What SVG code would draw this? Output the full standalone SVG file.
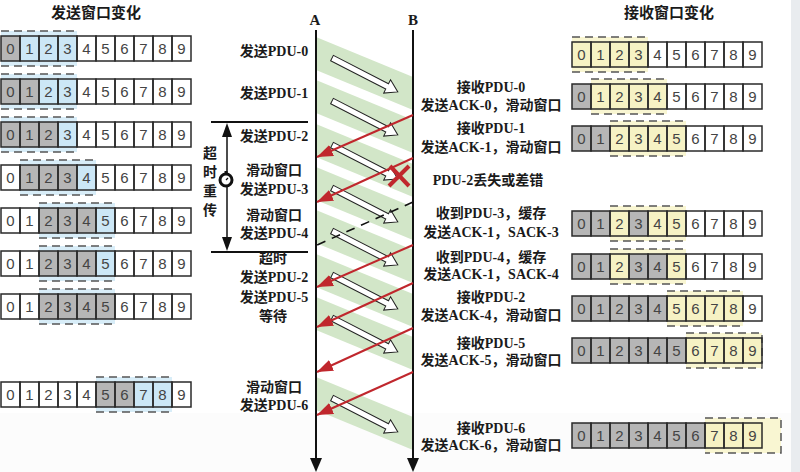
<svg xmlns="http://www.w3.org/2000/svg" xmlns:xlink="http://www.w3.org/1999/xlink" width="800" height="472" viewBox="0 0 800 472">
<style>
.lbl{font-family:"Liberation Serif","Noto Sans CJK SC",serif;font-weight:bold;font-size:14px;fill:#1a1a1a;text-anchor:middle}
.hdr{font-family:"Liberation Serif","Noto Sans CJK SC",serif;font-weight:bold;font-size:15px;fill:#1a1a1a;text-anchor:middle}
.dig{font-family:"Liberation Sans",Arial,sans-serif;font-size:15px;fill:#444;text-anchor:middle}
.cell{fill:none;stroke:#2a2a2a;stroke-width:1.5}
.g{fill:#b6b6b6}
.b{fill:#cce7f6}
.y{fill:#f6f2c4}
.wb{fill:#d8edf8}
.wy{fill:#f9f6d2}
.dash{stroke:#555;stroke-width:1.5;stroke-dasharray:8 5;fill:none}
.band{fill:#d2e6c8}
.ack{stroke:#c0272d;stroke-width:2;fill:none;marker-end:url(#rh)}
.life{stroke:#111;stroke-width:2}
.pdu{fill:#fff;stroke:#222;stroke-width:1}
</style>
<defs>
<marker id="rh" markerUnits="userSpaceOnUse" markerWidth="18" markerHeight="14" refX="16" refY="6" orient="auto">
<path d="M0,0 L16,6 L0,12 Z" fill="#c0272d"/>
</marker>
<g id="cells">
<rect class="cell" x="0" y="0" width="19" height="25"/><rect class="cell" x="19" y="0" width="19" height="25"/><rect class="cell" x="38" y="0" width="19" height="25"/><rect class="cell" x="57" y="0" width="19" height="25"/><rect class="cell" x="76" y="0" width="19" height="25"/><rect class="cell" x="95" y="0" width="19" height="25"/><rect class="cell" x="114" y="0" width="19" height="25"/><rect class="cell" x="133" y="0" width="19" height="25"/><rect class="cell" x="152" y="0" width="19" height="25"/><rect class="cell" x="171" y="0" width="19" height="25"/>
<text class="dig" x="9.5" y="18">0</text><text class="dig" x="28.5" y="18">1</text><text class="dig" x="47.5" y="18">2</text><text class="dig" x="66.5" y="18">3</text><text class="dig" x="85.5" y="18">4</text><text class="dig" x="104.5" y="18">5</text><text class="dig" x="123.5" y="18">6</text><text class="dig" x="142.5" y="18">7</text><text class="dig" x="161.5" y="18">8</text><text class="dig" x="180.5" y="18">9</text>
</g>
<polygon id="pa" class="pdu" points="0,-3 62,-3 62,-7.5 74,0 62,7.5 62,3 0,3"/>
</defs>

<rect x="0" y="0" width="800" height="472" fill="#fff"/>
<rect x="0" y="413" width="791" height="59" fill="#fcfcfc"/>
<rect x="791" y="0" width="9" height="472" fill="#e9ecef"/>

<g id="headers">
<text class="hdr" x="96" y="18">发送窗口变化</text>
<text class="hdr" x="669" y="18">接收窗口变化</text>
</g>

<g id="bands">
<polygon class="band" points="316,37 413,77 413,110 316,70"/>
<polygon class="band" points="316,80 413,120 413,153 316,113"/>
<polygon class="band" points="316,124 413,164 413,197 316,157"/>
<polygon class="band" points="316,167 413,207 413,240 316,200"/>
<polygon class="band" points="316,210 413,250 413,283 316,243"/>
<polygon class="band" points="316,254 413,294 413,327 316,287"/>
<polygon class="band" points="316,297 413,337 413,370 316,330"/>
<polygon class="band" points="316,377 413,417 413,450 316,410"/>
</g>

<g id="lifelines">
<text class="hdr" x="315" y="25">A</text>
<text class="hdr" x="413" y="25">B</text>
<line class="life" x1="316" y1="30" x2="316" y2="460"/>
<line class="life" x1="413" y1="30" x2="413" y2="460"/>
<polygon points="310,458 322,458 316,472" fill="#111"/>
<polygon points="407,458 419,458 413,472" fill="#111"/>
</g>

<g id="connectors">
<use xlink:href="#pa" href="#pa" transform="translate(332,58) rotate(27.25)"/>
<use xlink:href="#pa" href="#pa" transform="translate(332,101) rotate(27.25)"/>
<use xlink:href="#pa" href="#pa" transform="translate(332,145) rotate(27.25)"/>
<use xlink:href="#pa" href="#pa" transform="translate(332,188) rotate(27.25)"/>
<use xlink:href="#pa" href="#pa" transform="translate(332,231) rotate(27.25)"/>
<use xlink:href="#pa" href="#pa" transform="translate(332,275) rotate(27.25)"/>
<use xlink:href="#pa" href="#pa" transform="translate(332,318) rotate(27.25)"/>
<use xlink:href="#pa" href="#pa" transform="translate(332,398) rotate(27.25)"/>
<line class="ack" x1="413" y1="115" x2="317" y2="157"/>
<line class="ack" x1="413" y1="158" x2="317" y2="202"/>
<line x1="413" y1="202" x2="317" y2="245" stroke="#111" stroke-width="1.6" stroke-dasharray="9 7"/>
<line class="ack" x1="413" y1="245" x2="317" y2="287"/>
<line class="ack" x1="413" y1="283" x2="317" y2="327"/>
<line class="ack" x1="413" y1="328" x2="317" y2="372"/>
<line class="ack" x1="413" y1="372" x2="317" y2="415"/>
<g id="lost" stroke="#c0272d" stroke-width="4" stroke-linecap="butt">
<line x1="390" y1="166" x2="409" y2="186"/>
<line x1="409" y1="166" x2="389" y2="186"/>
</g>
</g>

<g id="timeout">
<line x1="211" y1="122" x2="308" y2="122" stroke="#111" stroke-width="2"/>
<line x1="211" y1="252" x2="308" y2="252" stroke="#111" stroke-width="2"/>
<line x1="227" y1="130" x2="227" y2="244" stroke="#111" stroke-width="1.5"/>
<polygon points="227,123 222,137 232,137" fill="#111"/>
<polygon points="227,251 222,237 232,237" fill="#111"/>
<circle cx="226" cy="180" r="6" fill="#fff" stroke="#111" stroke-width="3"/>
<rect x="224.5" y="171" width="3" height="3" fill="#111"/>
<line x1="226" y1="180" x2="228" y2="178" stroke="#111" stroke-width="1.2"/>
<text class="lbl" x="210" y="158">超</text>
<text class="lbl" x="210" y="177">时</text>
<text class="lbl" x="210" y="196">重</text>
<text class="lbl" x="210" y="215">传</text>
</g>

<g id="sender-labels">
<text class="lbl" x="274" y="56">发送PDU-0</text>
<text class="lbl" x="274" y="98">发送PDU-1</text>
<text class="lbl" x="274" y="141">发送PDU-2</text>
<text class="lbl" x="274" y="175">滑动窗口</text>
<text class="lbl" x="274" y="194">发送PDU-3</text>
<text class="lbl" x="274" y="220">滑动窗口</text>
<text class="lbl" x="274" y="238">发送PDU-4</text>
<text class="lbl" x="273" y="263">超时</text>
<text class="lbl" x="274" y="282">发送PDU-2</text>
<text class="lbl" x="274" y="302">发送PDU-5</text>
<text class="lbl" x="273" y="321">等待</text>
<text class="lbl" x="274" y="392">滑动窗口</text>
<text class="lbl" x="274" y="410">发送PDU-6</text>
</g>

<g id="receiver-labels">
<text class="lbl" x="491" y="92">接收PDU-0</text>
<text class="lbl" x="491" y="110">发送ACK-0，滑动窗口</text>
<text class="lbl" x="491" y="133">接收PDU-1</text>
<text class="lbl" x="491" y="152">发送ACK-1，滑动窗口</text>
<text class="lbl" x="488" y="185">PDU-2丢失或差错</text>
<text class="lbl" x="491" y="218">收到PDU-3，缓存</text>
<text class="lbl" x="491" y="237">发送ACK-1，SACK-3</text>
<text class="lbl" x="491" y="262">收到PDU-4，缓存</text>
<text class="lbl" x="491" y="279">发送ACK-1，SACK-4</text>
<text class="lbl" x="491" y="302">接收PDU-2</text>
<text class="lbl" x="491" y="320">发送ACK-4，滑动窗口</text>
<text class="lbl" x="491" y="348">接收PDU-5</text>
<text class="lbl" x="491" y="365">发送ACK-5，滑动窗口</text>
<text class="lbl" x="491" y="433">接收PDU-6</text>
<text class="lbl" x="491" y="450">发送ACK-6，滑动窗口</text>
</g>

<g id="send-w1">
<rect class="wb" x="1" y="31" width="76" height="35"/>
<rect class="g" x="1" y="36" width="19" height="25"/><rect class="b" x="20" y="36" width="57" height="25"/>
<path class="dash" d="M1,31 H77 M1,66 H77"/>
<use xlink:href="#cells" href="#cells" x="1" y="36"/>
</g>
<g id="send-w2">
<rect class="wb" x="1" y="74" width="76" height="35"/>
<rect class="g" x="1" y="79" width="38" height="25"/><rect class="b" x="39" y="79" width="38" height="25"/>
<path class="dash" d="M1,74 H77 M1,109 H77"/>
<use xlink:href="#cells" href="#cells" x="1" y="79"/>
</g>
<g id="send-w3">
<rect class="wb" x="1" y="117" width="76" height="35"/>
<rect class="g" x="1" y="122" width="57" height="25"/><rect class="b" x="58" y="122" width="19" height="25"/>
<path class="dash" d="M1,117 H77 M1,152 H77"/>
<use xlink:href="#cells" href="#cells" x="1" y="122"/>
</g>
<g id="send-w4">
<rect class="wb" x="20" y="160" width="76" height="35"/>
<rect class="g" x="20" y="165" width="57" height="25"/><rect class="b" x="77" y="165" width="19" height="25"/>
<path class="dash" d="M20,160 H96 M20,195 H96"/>
<use xlink:href="#cells" href="#cells" x="1" y="165"/>
</g>
<g id="send-w5">
<rect class="wb" x="39" y="203" width="76" height="35"/>
<rect class="g" x="39" y="208" width="57" height="25"/><rect class="b" x="96" y="208" width="19" height="25"/>
<path class="dash" d="M39,203 H115 M39,238 H115"/>
<use xlink:href="#cells" href="#cells" x="1" y="208"/>
</g>
<g id="send-w6">
<rect class="wb" x="39" y="246" width="76" height="35"/>
<rect class="g" x="39" y="251" width="57" height="25"/><rect class="b" x="96" y="251" width="19" height="25"/>
<path class="dash" d="M39,246 H115 M39,281 H115"/>
<use xlink:href="#cells" href="#cells" x="1" y="251"/>
</g>
<g id="send-w7">
<rect class="wb" x="39" y="289" width="76" height="35"/>
<rect class="g" x="39" y="294" width="76" height="25"/>
<path class="dash" d="M39,289 H115 M39,324 H115"/>
<use xlink:href="#cells" href="#cells" x="1" y="294"/>
</g>
<g id="send-w8">
<rect class="wb" x="96" y="377" width="76" height="35"/>
<rect class="g" x="96" y="382" width="38" height="25"/><rect class="b" x="134" y="382" width="38" height="25"/>
<path class="dash" d="M96,377 H172 M96,412 H172"/>
<use xlink:href="#cells" href="#cells" x="1" y="382"/>
</g>

<g id="recv-w1">
<rect class="wy" x="572" y="37" width="76" height="35"/>
<rect class="y" x="572" y="42" width="76" height="25"/>
<path class="dash" d="M572,37 H648 M572,72 H648"/>
<use xlink:href="#cells" href="#cells" x="572" y="42"/>
</g>
<g id="recv-w2">
<rect class="wy" x="591" y="79" width="76" height="35"/>
<rect class="g" x="572" y="84" width="19" height="25"/><rect class="y" x="591" y="84" width="76" height="25"/>
<path class="dash" d="M591,79 H667 M591,114 H667"/>
<use xlink:href="#cells" href="#cells" x="572" y="84"/>
</g>
<g id="recv-w3">
<rect class="wy" x="610" y="121" width="76" height="35"/>
<rect class="g" x="572" y="126" width="38" height="25"/><rect class="y" x="610" y="126" width="76" height="25"/>
<path class="dash" d="M610,121 H686 M610,156 H686"/>
<use xlink:href="#cells" href="#cells" x="572" y="126"/>
</g>
<g id="recv-w4">
<rect class="wy" x="610" y="206" width="76" height="35"/>
<rect class="g" x="572" y="211" width="38" height="25"/><rect class="y" x="610" y="211" width="19" height="25"/><rect class="g" x="629" y="211" width="19" height="25"/><rect class="y" x="648" y="211" width="38" height="25"/>
<path class="dash" d="M610,206 H686 M610,241 H686"/>
<use xlink:href="#cells" href="#cells" x="572" y="211"/>
</g>
<g id="recv-w5">
<rect class="wy" x="610" y="249" width="76" height="35"/>
<rect class="g" x="572" y="254" width="38" height="25"/><rect class="y" x="610" y="254" width="19" height="25"/><rect class="g" x="629" y="254" width="38" height="25"/><rect class="y" x="667" y="254" width="19" height="25"/>
<path class="dash" d="M610,249 H686 M610,284 H686"/>
<use xlink:href="#cells" href="#cells" x="572" y="254"/>
</g>
<g id="recv-w6">
<rect class="wy" x="667" y="291" width="76" height="35"/>
<rect class="g" x="572" y="296" width="95" height="25"/><rect class="y" x="667" y="296" width="76" height="25"/>
<path class="dash" d="M667,291 H743 M667,326 H743"/>
<use xlink:href="#cells" href="#cells" x="572" y="296"/>
</g>
<g id="recv-w7">
<rect class="wy" x="686" y="333" width="76" height="35"/>
<rect class="g" x="572" y="338" width="114" height="25"/><rect class="y" x="686" y="338" width="76" height="25"/>
<path class="dash" d="M686,333 H762 V368 H686"/>
<use xlink:href="#cells" href="#cells" x="572" y="338"/>
</g>
<g id="recv-w8">
<rect class="wy" x="705" y="418" width="76" height="35"/>
<rect class="g" x="572" y="423" width="133" height="25"/><rect class="y" x="705" y="423" width="57" height="25"/>
<path class="dash" d="M705,418 H781 V453 H705"/>
<use xlink:href="#cells" href="#cells" x="572" y="423"/>
</g>
</svg>
